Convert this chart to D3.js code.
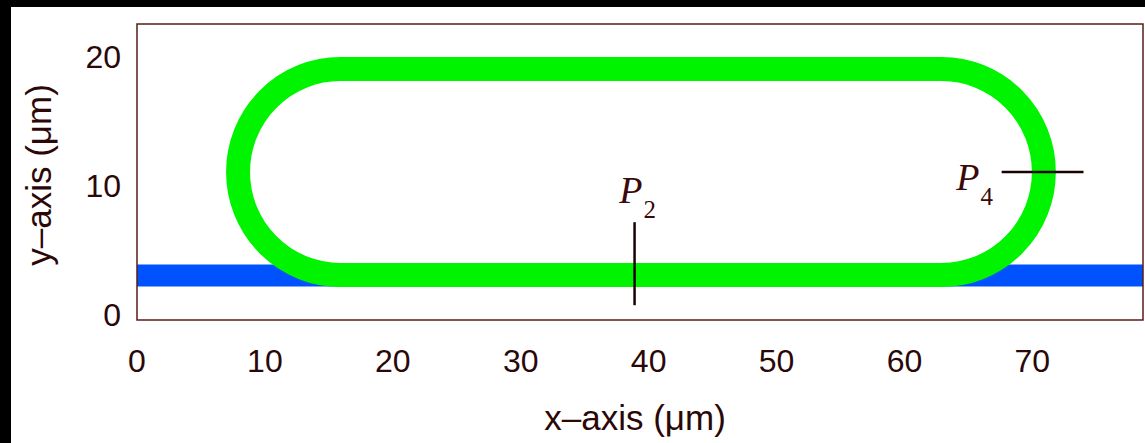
<!DOCTYPE html>
<html>
<head>
<meta charset="utf-8">
<script src="https://cdn.jsdelivr.net/npm/d3@7"></script>
<style>
    html, body { margin: 0; padding: 0; background: #000; }
    svg { display: block; }
    .tick-label { font-family: 'Liberation Sans', Arial, sans-serif; font-size: 32px; fill: #2b0808; }
    .axis-label { font-family: 'Liberation Sans', Arial, sans-serif; font-size: 35px; fill: #2b0808; }
    .probe-label { font-family: 'Liberation Serif', 'Times New Roman', serif; fill: #3a0a0a; }
</style>
</head>
<body>
<svg width="1145" height="443"></svg>
<script>
'use strict';

///////////////////////////// data ///////////////////////////
var xTicks = [0, 10, 20, 30, 40, 50, 60, 70];
var yTicks = [0, 10, 20];
var xDomain = [0, 78.65];
var yDomain = [-0.45, 22.55];

// blue strip (straight channel) : x from / to, centre y
var stripX = [0, 78.65];
var stripY = 3;

// green track (stadium) : centres of the two half circles, centre y, radius
var trackCentresX = [15.9, 62.9];
var trackCentreY = 11.05;
var trackRadius = 8;

// probe lines P2 (vertical) and P4 (horizontal)
var probes = [
    {name: 'P', sub: '2', x1: 38.9, y1: 0.7, x2: 38.9, y2: 7.15, labelX: 37.7, labelY: 8.65},
    {name: 'P', sub: '4', x1: 67.6, y1: 11.05, x2: 74.0, y2: 11.05, labelX: 64.05, labelY: 9.65}
];

///////////////////////////// set up ///////////////////////////
var svg = d3.select('svg'),
    W = +svg.attr('width'),
    H = +svg.attr('height'),
    plot = {left: 137, top: 24, right: 1143, bottom: 320};

// black frame at top and left, white page
svg.append('rect').attr('width', W).attr('height', H).attr('fill', '#000');
svg.append('rect').attr('x', 11).attr('y', 7).attr('width', W - 11).attr('height', H - 7).attr('fill', '#fff');

var x = d3.scaleLinear().domain(xDomain).range([plot.left, plot.right]);
var y = d3.scaleLinear().domain(yDomain).range([plot.bottom, plot.top]);

svg.append('clipPath').attr('id', 'plot-clip')
    .append('rect')
    .attr('x', plot.left).attr('y', plot.top)
    .attr('width', plot.right - plot.left).attr('height', plot.bottom - plot.top);

var canvas = svg.append('g').attr('clip-path', 'url(#plot-clip)');

// blue strip
canvas.append('line')
    .attr('x1', x(stripX[0])).attr('x2', x(stripX[1]))
    .attr('y1', y(stripY)).attr('y2', y(stripY))
    .attr('stroke', '#0052ff')
    .attr('stroke-width', 22);

// green stadium track
var rx = x(trackRadius) - x(0),
    ry = y(0) - y(trackRadius),
    yTop = y(trackCentreY + trackRadius),
    yBot = y(trackCentreY - trackRadius),
    xl = x(trackCentresX[0]),
    xr = x(trackCentresX[1]);
var trackPath = 'M' + xl + ',' + yTop +
    'L' + xr + ',' + yTop +
    'A' + rx + ',' + ry + ' 0 0 1 ' + xr + ',' + yBot +
    'L' + xl + ',' + yBot +
    'A' + rx + ',' + ry + ' 0 0 1 ' + xl + ',' + yTop + 'Z';
canvas.append('path')
    .attr('d', trackPath)
    .attr('fill', 'none')
    .attr('stroke', '#00f400')
    .attr('stroke-width', 24);

// probe lines + labels
canvas.selectAll('.probe')
    .data(probes)
    .enter()
    .append('line')
    .attr('class', 'probe')
    .attr('x1', function(d) { return x(d.x1); })
    .attr('y1', function(d) { return y(d.y1); })
    .attr('x2', function(d) { return x(d.x2); })
    .attr('y2', function(d) { return y(d.y2); })
    .attr('stroke', '#1a0202')
    .attr('stroke-width', 2.5);

var labels = svg.selectAll('.probe-label')
    .data(probes)
    .enter()
    .append('text')
    .attr('class', 'probe-label')
    .attr('x', function(d) { return x(d.labelX); })
    .attr('y', function(d) { return y(d.labelY); });
labels.append('tspan')
    .attr('font-style', 'italic')
    .attr('font-size', 38)
    .text(function(d) { return d.name; });
labels.append('tspan')
    .attr('font-size', 25)
    .attr('dx', 1)
    .attr('dy', 15)
    .text(function(d) { return d.sub; });

// frame
svg.append('rect')
    .attr('x', plot.left).attr('y', plot.top)
    .attr('width', plot.right - plot.left).attr('height', plot.bottom - plot.top)
    .attr('fill', 'none')
    .attr('stroke', '#5a1c18')
    .attr('stroke-width', 1.5);

// tick labels (no tick marks in the original)
svg.selectAll('.x-tick')
    .data(xTicks)
    .enter()
    .append('text')
    .attr('class', 'tick-label x-tick')
    .attr('x', function(d) { return x(d); })
    .attr('y', 372)
    .attr('text-anchor', 'middle')
    .text(function(d) { return d; });

svg.selectAll('.y-tick')
    .data(yTicks)
    .enter()
    .append('text')
    .attr('class', 'tick-label y-tick')
    .attr('x', 121)
    .attr('y', function(d) { return y(d); })
    .attr('dy', '0.36em')
    .attr('text-anchor', 'end')
    .text(function(d) { return d; });

// axis titles
svg.append('text')
    .attr('class', 'axis-label')
    .attr('x', 635)
    .attr('y', 430)
    .attr('text-anchor', 'middle')
    .text('x\u2013axis (\u03bcm)');

svg.append('text')
    .attr('class', 'axis-label')
    .attr('transform', 'translate(51,175) rotate(-90)')
    .attr('text-anchor', 'middle')
    .text('y\u2013axis (\u03bcm)');
</script>
</body>
</html>
